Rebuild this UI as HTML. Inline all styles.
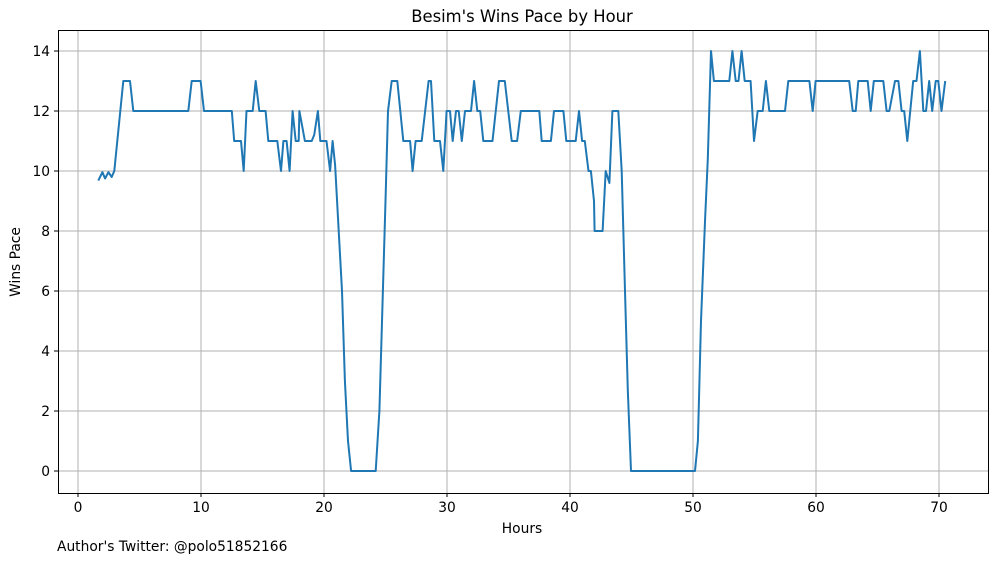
<!DOCTYPE html>
<html><head><meta charset="utf-8"><style>
body{margin:0;background:#fff;}
svg{display:block;font-family:"DejaVu Sans","Liberation Sans",sans-serif;}
</style></head><body>
<svg id="chart" width="997" height="562" viewBox="0 0 997 562">
<rect x="0" y="0" width="997" height="562" fill="#fff"/>
<text x="522" y="22" font-size="16.4" text-anchor="middle">Besim's Wins Pace by Hour</text>
<g id="grid"></g>
<g id="ticks"></g>
<path id="line" fill="none" stroke="#1f77b4" stroke-width="2" stroke-linejoin="round"/>
<rect x="58.5" y="30.5" width="930" height="463" fill="none" stroke="#000" stroke-width="1"/>
<text x="522" y="533" font-size="13.8" text-anchor="middle">Hours</text>
<text transform="translate(20,262) rotate(-90)" font-size="13.8" text-anchor="middle">Wins Pace</text>
<text x="57" y="551" font-size="13.8">Author's Twitter: @polo51852166</text>
</svg>
<script>
const hours=[1.65,1.98,2.2,2.47,2.74,2.95,3.68,4.23,4.5,8.97,9.24,9.97,10.24,12.5,12.7,13.25,13.47,13.7,14.2,14.45,14.74,15.25,15.47,16.2,16.5,16.7,16.96,17.2,17.45,17.7,17.94,18,18.45,19,19.2,19.5,19.7,20.2,20.5,20.7,20.9,21.46,21.7,21.95,22.2,24.2,24.5,25,25.2,25.5,25.96,26.45,27,27.2,27.45,27.94,28.5,28.7,28.97,29.43,29.7,29.97,30.24,30.46,30.73,30.95,31.2,31.46,31.95,32.2,32.46,32.7,32.95,33.7,34.23,34.7,35.26,35.7,36,37.5,37.7,38.45,38.7,39.46,39.7,40.46,40.73,40.98,41.2,41.5,41.7,41.95,42,42.65,42.9,43.2,43.45,43.93,44.2,44.47,44.7,44.96,50.16,50.4,50.65,50.98,51.2,51.46,51.7,52.95,53.2,53.47,53.7,53.95,54.2,54.68,54.96,55.26,55.67,55.93,56.2,57.48,57.75,59.46,59.73,59.97,62.7,62.98,63.23,63.44,64.2,64.45,64.7,65.47,65.74,65.96,66.42,66.7,66.96,67.17,67.42,67.9,68.17,68.45,68.72,68.94,69.2,69.45,69.73,69.94,70.2,70.5];
const pace=[9.68,9.96,9.75,9.96,9.8,10,13,13,12,12,13,13,12,12,11,11,10,12,12,13,12,12,11,11,10,11,11,10,12,11,11,12,11,11,11.2,12,11,11,10,11,10.2,6,3,1,0,0,2,9,12,13,13,11,11,10,11,11,13,13,11,11,10,12,12,11,12,12,11,12,12,13,12,12,11,11,13,13,11,11,12,12,11,11,12,12,11,11,12,11,11,10,10,9,8,8,10,9.6,12,12,10,6,2.7,0,0,1,5,8.4,10.4,14,13,13,14,13,13,14,13,13,11,12,12,13,12,12,13,13,12,13,13,12,12,13,13,12,13,13,12,12,13,13,12,12,11,13,13,14,12,12,13,12,13,13,12,13];
const xTicks=[0,10,20,30,40,50,60,70];
const yTicks=[0,2,4,6,8,10,12,14];
const xs=h=>78+h*12.3;
const ys=v=>471-v*30;
const NS="http://www.w3.org/2000/svg";
const grid=document.getElementById('grid'),ticks=document.getElementById('ticks');
xTicks.forEach(t=>{
 const g=document.createElementNS(NS,'line');
 
 
 g.setAttribute('x1',xs(t));g.setAttribute('x2',xs(t));g.setAttribute('y1',30);g.setAttribute('y2',493);
 g.setAttribute('stroke','#b0b0b0');g.setAttribute('stroke-width','1');grid.appendChild(g);
 const tk=document.createElementNS(NS,'line');
 
 
 tk.setAttribute('x1',xs(t));tk.setAttribute('x2',xs(t));tk.setAttribute('y1',493);tk.setAttribute('y2',497);
 tk.setAttribute('stroke','#000');ticks.appendChild(tk);
 const tx=document.createElementNS(NS,'text');
 
 
 tx.setAttribute('x',xs(t));tx.setAttribute('y',512);tx.setAttribute('font-size','13.8');tx.setAttribute('text-anchor','middle');
 tx.textContent=t;ticks.appendChild(tx);
});
yTicks.forEach(t=>{
 const g=document.createElementNS(NS,'line');
 
 
 g.setAttribute('x1',58);g.setAttribute('x2',988);g.setAttribute('y1',ys(t));g.setAttribute('y2',ys(t));
 g.setAttribute('stroke','#b0b0b0');g.setAttribute('stroke-width','1');grid.appendChild(g);
 const tk=document.createElementNS(NS,'line');
 
 
 tk.setAttribute('x1',54);tk.setAttribute('x2',58);tk.setAttribute('y1',ys(t));tk.setAttribute('y2',ys(t));
 tk.setAttribute('stroke','#000');ticks.appendChild(tk);
 const tx=document.createElementNS(NS,'text');
 
 
 tx.setAttribute('x',50);tx.setAttribute('y',ys(t)+5);tx.setAttribute('font-size','13.8');tx.setAttribute('text-anchor','end');
 tx.textContent=t;ticks.appendChild(tx);
});
document.getElementById('line').setAttribute('d',hours.map((h,i)=>(i?'L':'M')+xs(h).toFixed(1)+','+ys(pace[i]).toFixed(1)).join(' '));
</script>
</body></html>
